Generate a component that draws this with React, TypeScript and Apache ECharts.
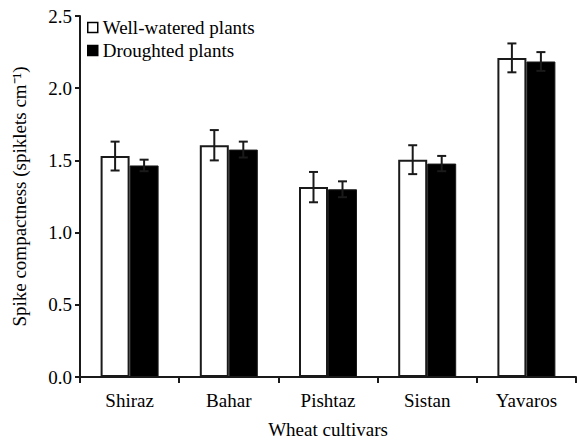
import React, { useEffect, useRef } from "react";
import * as echarts from "echarts";

const categories = ["Shiraz", "Bahar", "Pishtaz", "Sistan", "Yavaros"];
const wellWatered = [1.53, 1.605, 1.315, 1.505, 2.21];
const wellWateredErr = [0.1, 0.105, 0.105, 0.1, 0.1];
const droughted = [1.465, 1.575, 1.3, 1.478, 2.185];
const droughtedErr = [0.04, 0.055, 0.055, 0.053, 0.065];
const yTicks = [0, 0.5, 1.0, 1.5, 2.0, 2.5];

const FONT = "'Liberation Serif', 'Times New Roman', serif";
const FS = 19;
const BAR_W = 29;

function errSeries(vals: number[], errs: number[], offset: number) {
  return {
    type: "custom",
    z: 10,
    silent: true,
    data: vals.map((v, i) => [i, v, errs[i]]),
    renderItem: (params: any, api: any) => {
      const i = api.value(0);
      const v = api.value(1);
      const e = api.value(2);
      const c = api.coord([i, v]);
      const cx = c[0] + offset;
      const top = api.coord([i, v + e])[1];
      const bot = api.coord([i, v - e])[1];
      const hw = 4.5;
      const style = { stroke: "#1a1a1a", lineWidth: 2 };
      return {
        type: "group",
        children: [
          { type: "line", shape: { x1: cx, y1: top, x2: cx, y2: bot }, style },
          { type: "line", shape: { x1: cx - hw, y1: top, x2: cx + hw, y2: top }, style },
          { type: "line", shape: { x1: cx - hw, y1: bot, x2: cx + hw, y2: bot }, style },
        ],
      };
    },
  };
}

export default function App() {
  const ref = useRef<HTMLDivElement>(null);
  useEffect(() => {
    const chart = echarts.init(ref.current!, null, { renderer: "svg" });
    chart.setOption({
      animation: false,
      backgroundColor: "#fff",
      textStyle: { fontFamily: FONT, color: "#000" },
      grid: { left: 80, right: 3, top: 16, bottom: 63, containLabel: false },
      legend: {
        left: 82,
        top: 13,
        orient: "vertical",
        icon: "rect",
        itemWidth: 10,
        itemHeight: 10,
        itemGap: 4,
        textStyle: { fontFamily: FONT, fontSize: FS, color: "#000" },
        data: [
          { name: "Well-watered plants", itemStyle: { color: "#fff", borderColor: "#000", borderWidth: 1.5 } },
          { name: "Droughted plants", itemStyle: { color: "#000", borderColor: "#000", borderWidth: 1.5 } },
        ],
      },
      xAxis: {
        type: "category",
        data: categories,
        name: "Wheat cultivars",
        nameLocation: "middle",
        nameGap: 43,
        nameTextStyle: { fontFamily: FONT, fontSize: FS, color: "#000" },
        axisLine: { lineStyle: { color: "#1a1a1a", width: 2 } },
        axisTick: { show: true, length: 6, lineStyle: { color: "#1a1a1a", width: 2 } },
        axisLabel: { fontFamily: FONT, fontSize: FS, color: "#000", margin: 14 },
      },
      yAxis: {
        type: "value",
        min: yTicks[0],
        max: yTicks[yTicks.length - 1],
        interval: 0.5,
        name: "Spike compactness (spiklets cm⁻¹)",
        nameLocation: "middle",
        nameGap: 51,
        nameTextStyle: { fontFamily: FONT, fontSize: FS, color: "#000" },
        axisLine: { show: true, lineStyle: { color: "#1a1a1a", width: 2 } },
        axisTick: { show: true, length: 5, lineStyle: { color: "#1a1a1a", width: 2 } },
        axisLabel: {
          fontFamily: FONT,
          fontSize: FS,
          color: "#000",
          margin: 8,
          formatter: (v: number) => v.toFixed(1),
        },
        splitLine: { show: false },
      },
      series: [
        {
          name: "Well-watered plants",
          type: "bar",
          data: wellWatered,
          barWidth: BAR_W,
          barGap: "0%",
          itemStyle: { color: "#fff", borderColor: "#1a1a1a", borderWidth: 2 },
        },
        {
          name: "Droughted plants",
          type: "bar",
          data: droughted,
          barWidth: BAR_W,
          barGap: "0%",
          itemStyle: { color: "#000", borderColor: "#1a1a1a", borderWidth: 1 },
        },
        errSeries(wellWatered, wellWateredErr, -BAR_W / 2),
        errSeries(droughted, droughtedErr, BAR_W / 2),
      ],
    });
    return () => chart.dispose();
  }, []);
  return <div ref={ref} style={{ width: 579, height: 444, position: "absolute", left: 0, top: 0 }} />;
}
